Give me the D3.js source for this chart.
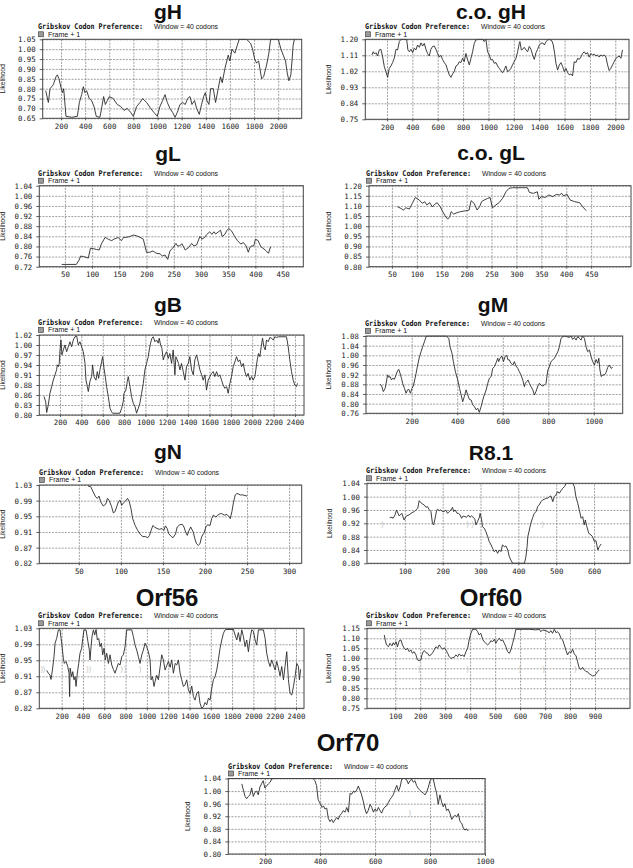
<!DOCTYPE html>
<html>
<head>
<meta charset="utf-8">
<script src="https://cdn.jsdelivr.net/npm/d3@7"></script>
<style>
  body { margin: 0; background: #fff; }
  text { font-family: "Liberation Sans", Arial, sans-serif; fill: #111; }
  .ax text { font-family: "DejaVu Sans Mono", monospace; font-size: 7.4px; fill: #222; }
  .ax line { stroke: #333; stroke-width: 0.8; }
  .grid line { stroke: #777; stroke-width: 0.7; stroke-dasharray: 2,1.2; }
</style>
</head>
<body>
<svg id="fig" width="633" height="868"></svg>
<script>
//===== tick labels ==========================================
const xTicks2000 = [200, 400, 600, 800, 1000, 1200, 1400, 1600, 1800, 2000];
const xTicks2400 = [200, 400, 600, 800, 1000, 1200, 1400, 1600, 1800, 2000, 2200, 2400];
const xTicks450 = [50, 100, 150, 200, 250, 300, 350, 400, 450];
const xTicks1000 = [200, 400, 600, 800, 1000];
const xTicks300 = [50, 100, 150, 200, 250, 300];
const xTicks600 = [100, 200, 300, 400, 500, 600];
const xTicks900 = [100, 200, 300, 400, 500, 600, 700, 800, 900];

const yLabGH = ["1.05", "1.00", "0.95", "0.90", "0.85", "0.80", "0.75", "0.70", "0.65"];
const yLabCoGH = ["1.20", "1.11", "1.02", "0.93", "0.84", "0.75"];
const yLabGL = ["1.04", "1.00", "0.96", "0.92", "0.88", "0.84", "0.80", "0.76", "0.72"];
const yLabCoGL = ["1.20", "1.15", "1.10", "1.05", "1.00", "0.95", "0.90", "0.85", "0.80"];
const yLabGB = ["1.02", "1.00", "0.97", "0.94", "0.91", "0.88", "0.86", "0.83", "0.80"];
const yLabGM = ["1.08", "1.04", "1.00", "0.96", "0.92", "0.88", "0.84", "0.80", "0.76"];
const yLabGN = ["1.03", "0.99", "0.95", "0.91", "0.87", "0.82"];
const yLabR81 = ["1.04", "1.00", "0.96", "0.92", "0.88", "0.84", "0.80"];
const yLabOrf56 = ["1.03", "0.99", "0.95", "0.91", "0.87", "0.82"];
const yLabOrf60 = ["1.15", "1.10", "1.05", "1.00", "0.95", "0.90", "0.85", "0.80", "0.75"];
const yLabOrf70 = ["1.04", "1.00", "0.96", "0.92", "0.88", "0.84", "0.80"];

//===== series: [codon position, likelihood] ==================
const gH = [[73,.79],[95,.73],[109,.80],[136,.82],[158,.86],[169,.87],[183,.85],[202,.80],[213,.78],[222,.80],[241,.66],[288,.655],[335,.66],[352,.73],[371,.77],[385,.81],[398,.78],[412,.79],[434,.75],[453,.74],[473,.71],[492,.66],[522,.655],[539,.71],[553,.76],[567,.72],[584,.74],[600,.76],[633,.75],[666,.72],[694,.71],[722,.69],[749,.70],[777,.68],[799,.66],[827,.71],[854,.73],[876,.75],[910,.73],[943,.70],[970,.68],[998,.66],[1020,.71],[1042,.74],[1062,.77],[1081,.73],[1103,.70],[1125,.68],[1145,.655],[1164,.68],[1186,.72],[1208,.73],[1230,.72],[1249,.75],[1269,.76],[1285,.72],[1307,.74],[1324,.70],[1346,.67],[1365,.72],[1382,.76],[1396,.78],[1409,.74],[1426,.72],[1440,.80],[1462,.80],[1481,.73],[1503,.80],[1522,.86],[1536,.83],[1558,.90],[1586,.97],[1600,.94],[1617,1.00],[1641,.98],[1661,1.02],[1677,1.05],[1738,1.05],[1771,1.03],[1788,1.00],[1805,.95],[1821,.93],[1838,.94],[1863,.85],[1879,.86],[1904,.92],[1923,.98],[1937,1.05],[2001,1.05],[2023,1.00],[2042,.97],[2061,.94],[2075,.88],[2089,.84],[2105,.87],[2116,.95],[2124,1.02],[2135,1.05]];

const coGH = [[81,1.112],[92,1.13],[102,1.117],[113,1.125],[126,1.106],[139,1.14],[152,1.144],[166,1.10],[179,1.046],[192,1.018],[205,.986],[218,1.037],[231,1.05],[244,1.069],[257,1.093],[271,1.144],[284,1.14],[297,1.187],[310,1.20],[355,1.20],[365,1.14],[376,1.13],[389,1.144],[402,1.125],[415,1.15],[428,1.14],[441,1.168],[455,1.155],[468,1.18],[481,1.162],[494,1.177],[507,1.144],[520,1.12],[533,1.106],[546,1.144],[560,1.16],[573,1.162],[586,1.144],[599,1.12],[612,1.10],[625,1.11],[638,1.087],[652,1.069],[665,1.056],[678,1.027],[691,1.0],[704,.986],[717,1.005],[730,1.018],[744,1.05],[757,1.056],[770,1.074],[783,1.069],[796,1.093],[809,1.074],[822,1.12],[836,1.084],[849,1.056],[862,1.093],[875,1.13],[888,1.177],[901,1.196],[914,1.20],[954,1.20],[967,1.187],[980,1.20],[993,1.13],[1006,1.112],[1019,1.084],[1032,1.087],[1045,1.065],[1059,1.069],[1072,1.05],[1085,1.037],[1098,1.024],[1111,1.012],[1124,1.027],[1137,1.05],[1151,1.018],[1164,1.024],[1177,1.037],[1190,1.056],[1203,1.074],[1217,1.093],[1230,1.13],[1243,1.177],[1248,1.187],[1259,1.14],[1270,1.144],[1282,1.155],[1296,1.14],[1309,1.13],[1322,1.16],[1335,1.144],[1348,1.112],[1361,1.087],[1375,1.125],[1388,1.144],[1401,1.168],[1414,1.177],[1427,1.18],[1441,1.168],[1454,1.187],[1467,1.196],[1480,1.20],[1501,1.19],[1511,1.168],[1522,1.12],[1532,1.065],[1545,1.027],[1559,1.056],[1572,1.069],[1585,1.046],[1598,1.018],[1611,1.037],[1624,1.012],[1637,1.0],[1650,1.005],[1663,.994],[1676,1.074],[1690,1.069],[1703,1.093],[1716,1.087],[1729,1.10],[1742,1.12],[1755,1.13],[1768,1.117],[1781,1.125],[1794,1.10],[1807,1.12],[1820,1.112],[1834,1.117],[1847,1.106],[1860,1.112],[1873,1.10],[1886,1.112],[1899,1.106],[1913,1.112],[1926,1.10],[1939,1.056],[1952,1.024],[1965,1.037],[1978,1.056],[1991,1.074],[2005,1.093],[2018,1.10],[2031,1.106],[2044,1.093],[2057,1.14]];

const gL = [[44,.729],[71,.729],[76,.746],[79,.762],[84,.760],[89,.757],[93,.754],[97,.793],[103,.791],[108,.788],[113,.786],[117,.810],[124,.836],[130,.828],[136,.823],[142,.831],[148,.835],[154,.823],[158,.836],[163,.836],[169,.839],[176,.845],[182,.842],[188,.836],[194,.829],[200,.777],[206,.777],[212,.782],[218,.773],[225,.771],[229,.762],[234,.766],[239,.749],[243,.783],[248,.793],[254,.812],[257,.802],[261,.802],[265,.811],[271,.786],[277,.795],[283,.812],[287,.802],[292,.806],[298,.839],[302,.829],[307,.836],[310,.846],[316,.858],[320,.848],[324,.858],[327,.849],[332,.858],[336,.864],[339,.839],[344,.848],[347,.861],[351,.871],[356,.862],[362,.839],[367,.823],[373,.810],[378,.815],[383,.802],[387,.777],[390,.797],[393,.802],[397,.802],[400,.829],[405,.823],[410,.799],[414,.793],[419,.784],[424,.773],[428,.799]];

const coGL = [[61,1.096],[68,1.088],[73,1.08],[78,1.091],[85,1.085],[91,1.113],[97,1.142],[105,1.129],[111,1.113],[116,1.121],[120,1.105],[126,1.116],[131,1.096],[136,1.108],[141,1.116],[147,1.096],[152,1.072],[157,1.05],[162,1.035],[166,1.047],[169,1.072],[174,1.06],[181,1.067],[188,1.072],[195,1.075],[201,1.077],[205,1.08],[209,1.126],[215,1.113],[218,1.096],[221,1.08],[226,1.096],[230,1.121],[235,1.129],[242,1.137],[247,1.142],[252,1.091],[259,1.105],[265,1.116],[272,1.137],[279,1.17],[285,1.187],[292,1.19],[322,1.19],[326,1.167],[334,1.162],[342,1.17],[345,1.133],[350,1.146],[358,1.142],[365,1.154],[373,1.146],[380,1.157],[386,1.154],[391,1.162],[395,1.149],[401,1.159],[408,1.129],[417,1.121],[427,1.116],[433,1.096],[440,1.077]];

const gB = [[50,.852],[66,.837],[75,.807],[90,.828],[106,.861],[122,.880],[137,.898],[153,.913],[168,.927],[175,.941],[184,.936],[193,.945],[200,.983],[209,1.011],[218,.969],[231,.983],[246,.997],[262,.978],[278,.992],[293,1.006],[309,.992],[324,1.011],[340,1.020],[356,1.022],[371,.997],[387,1.006],[402,.992],[418,.978],[434,.945],[443,.898],[456,.880],[465,.866],[480,.894],[496,.908],[505,.941],[518,.908],[537,.898],[549,.922],[562,.903],[574,.927],[590,.950],[599,.964],[612,.931],[624,.908],[636,.880],[652,.852],[668,.819],[683,.809],[693,.805],[761,.805],[777,.819],[792,.837],[799,.861],[817,.870],[830,.894],[839,.908],[855,.880],[870,.852],[886,.833],[902,.824],[917,.805],[933,.819],[948,.833],[964,.861],[980,.889],[995,.927],[1011,.945],[1026,.964],[1036,.983],[1048,1.002],[1061,1.016],[1073,1.020],[1089,1.006],[1104,1.011],[1120,1.002],[1129,1.016],[1142,.997],[1154,.988],[1167,.955],[1182,.969],[1198,.978],[1214,.959],[1229,.973],[1245,.945],[1260,.983],[1276,.913],[1285,.964],[1298,.955],[1310,.945],[1323,.927],[1338,.945],[1354,.922],[1370,.898],[1385,.936],[1401,.945],[1416,.964],[1432,.927],[1448,.913],[1463,.955],[1479,.969],[1494,.950],[1510,.927],[1526,.913],[1541,.898],[1557,.913],[1572,.870],[1588,.898],[1604,.908],[1619,.917],[1635,.922],[1650,.908],[1666,.922],[1682,.908],[1697,.913],[1713,.898],[1728,.884],[1744,.875],[1760,.880],[1775,.861],[1791,.889],[1806,.908],[1822,.936],[1838,.950],[1853,.964],[1869,.950],[1884,.955],[1900,.936],[1916,.945],[1931,.922],[1947,.908],[1962,.917],[1978,.898],[1994,.908],[2009,.898],[2025,.908],[2034,.927],[2047,.955],[2059,.973],[2072,.964],[2084,.992],[2097,1.016],[2109,.992],[2122,.983],[2134,1.011],[2150,1.006],[2165,1.018],[2181,1.016],[2196,1.011],[2212,1.020],[2228,1.018],[2243,1.020],[2321,1.020],[2337,.992],[2352,.955],[2368,.922],[2384,.898],[2399,.884],[2415,.880],[2424,.889]];

const gM = [[61,.881],[68,.873],[75,.850],[83,.863],[90,.898],[94,.919],[99,.909],[105,.912],[111,.898],[116,.905],[124,.901],[131,.919],[138,.937],[143,.942],[149,.925],[155,.905],[160,.884],[168,.863],[175,.843],[182,.857],[187,.859],[194,.843],[201,.863],[207,.873],[213,.898],[219,.925],[226,.960],[234,.994],[241,1.015],[248,1.036],[256,1.057],[263,1.077],[270,1.08],[351,1.08],[355,1.077],[363,1.070],[368,1.036],[377,1.008],[383,.974],[392,.932],[402,.898],[410,.863],[417,.836],[424,.808],[431,.829],[439,.857],[446,.836],[453,.818],[461,.815],[468,.795],[475,.788],[483,.774],[490,.781],[497,.764],[505,.788],[512,.815],[519,.836],[527,.857],[534,.884],[541,.905],[549,.912],[556,.946],[563,.953],[571,.970],[578,.988],[582,.974],[588,.988],[596,.997],[603,.974],[610,.994],[617,1.001],[623,.981],[629,.981],[636,.967],[644,.960],[651,.974],[658,.956],[666,.946],[673,.932],[680,.919],[688,.898],[695,.870],[699,.884],[705,.891],[711,.898],[717,.884],[724,.870],[732,.857],[739,.836],[746,.850],[754,.873],[761,.884],[768,.877],[776,.873],[783,.877],[790,.884],[798,.939],[805,.953],[812,.974],[820,.981],[827,.988],[834,1.001],[842,1.015],[849,1.036],[856,1.070],[864,1.077],[871,1.08],[893,1.074],[900,1.08],[907,1.066],[915,1.074],[922,1.063],[929,1.077],[937,1.070],[944,1.063],[951,1.08],[959,1.070],[966,1.036],[973,1.015],[981,1.022],[988,.994],[995,.974],[1003,.960],[1010,.983],[1017,.967],[1022,.988],[1027,.939],[1033,.912],[1039,.919],[1047,.919],[1054,.929],[1061,.950],[1068,.960],[1076,.946],[1083,.950]];

const gN = [[61,1.027],[64,1.026],[67,1.012],[70,.999],[72,.995],[74,1.001],[76,.986],[79,.975],[82,.980],[84,.995],[86,.990],[89,.973],[91,.957],[93,.960],[95,.973],[97,.986],[99,.990],[101,.977],[103,.983],[106,.989],[108,.995],[110,.986],[112,.968],[114,.942],[117,.924],[120,.911],[123,.901],[126,.895],[129,.895],[132,.892],[134,.898],[136,.911],[138,.924],[140,.920],[143,.916],[146,.914],[149,.916],[151,.911],[153,.923],[155,.916],[157,.902],[160,.895],[162,.892],[165,.902],[167,.920],[170,.926],[173,.927],[175,.920],[177,.907],[179,.898],[181,.911],[183,.920],[186,.907],[188,.889],[190,.876],[192,.872],[194,.876],[196,.894],[198,.902],[199,.904],[201,.920],[203,.926],[206,.924],[208,.942],[210,.951],[213,.946],[215,.951],[218,.955],[220,.955],[223,.951],[226,.953],[229,.946],[230,.942],[232,.960],[234,.986],[236,1.004],[238,1.008],[242,1.004],[245,1.004],[250,1.001]];

const r81 = [[60,.937],[66,.938],[69,.935],[74,.945],[78,.960],[85,.942],[92,.950],[98,.930],[104,.942],[111,.945],[119,.952],[125,.955],[129,.960],[134,.965],[138,.988],[142,.982],[147,.978],[151,.975],[156,.968],[160,.970],[164,.962],[169,.955],[173,.920],[176,.915],[179,.930],[184,.958],[186,.962],[191,.958],[195,.960],[200,.955],[204,.955],[208,.960],[213,.950],[217,.955],[222,.960],[226,.968],[229,.955],[233,.960],[238,.950],[242,.950],[246,.945],[250,.935],[254,.942],[259,.940],[263,.938],[268,.945],[272,.938],[276,.942],[281,.938],[285,.932],[288,.915],[292,.925],[297,.938],[299,.950],[303,.930],[305,.910],[310,.905],[314,.895],[319,.880],[323,.865],[328,.855],[332,.845],[336,.835],[341,.840],[345,.830],[350,.840],[354,.835],[358,.855],[363,.850],[367,.852],[372,.840],[376,.820],[380,.810],[385,.800],[416,.800],[420,.820],[423,.850],[425,.880],[429,.900],[433,.920],[438,.938],[442,.950],[447,.955],[451,.970],[455,.975],[460,.985],[464,.990],[469,.992],[473,.995],[477,.995],[482,1.000],[486,1.002],[491,.985],[495,1.000],[499,1.005],[504,1.015],[508,1.010],[513,1.018],[517,1.025],[522,1.030],[526,1.040],[544,1.040],[548,1.030],[552,1.000],[557,.980],[561,.960],[566,.935],[570,.940],[574,.915],[577,.930],[581,.910],[586,.890],[592,.885],[596,.880],[601,.865],[605,.868],[610,.840],[614,.850],[619,.858]];

const orf56 = [[59,.922],[75,.915],[91,.910],[100,.899],[113,.923],[128,.957],[138,.992],[153,1.004],[169,1.026],[185,1.026],[200,.992],[216,.953],[225,.940],[241,.945],[257,.932],[269,.915],[275,.855],[279,.928],[294,.906],[304,.919],[316,.898],[326,.906],[335,.881],[347,.915],[360,.940],[372,.966],[388,.979],[398,1.004],[410,1.026],[429,1.026],[444,1.0],[460,.974],[466,.949],[476,.983],[485,1.009],[498,1.026],[510,1.013],[523,1.027],[535,1.0],[548,1.004],[560,.983],[573,.992],[585,.962],[598,.979],[610,.949],[623,.966],[639,.940],[654,.962],[670,.936],[685,.925],[701,.915],[717,.928],[732,.940],[748,.936],[764,.957],[779,.962],[795,.983],[811,1.026],[858,1.026],[873,1.009],[889,.987],[905,.974],[920,.957],[936,.940],[952,.962],[967,.974],[983,.992],[998,.983],[1014,.970],[1030,.949],[1039,.898],[1052,.906],[1067,.881],[1077,.894],[1092,.910],[1108,.898],[1124,.930],[1139,.962],[1155,.949],[1171,.923],[1186,.934],[1202,.945],[1218,.930],[1233,.949],[1249,.915],[1265,.940],[1280,.936],[1296,.949],[1311,.916],[1327,.898],[1343,.881],[1358,.885],[1374,.898],[1390,.872],[1405,.863],[1421,.882],[1437,.855],[1452,.846],[1468,.863],[1484,.868],[1499,.838],[1515,.825],[1531,.829],[1546,.840],[1562,.834],[1578,.851],[1593,.846],[1609,.876],[1624,.898],[1640,.906],[1656,.923],[1671,.949],[1687,.979],[1703,1.0],[1718,1.017],[1734,1.026],[1750,1.027],[1812,1.027],[1828,1.013],[1844,1.0],[1859,1.019],[1875,.996],[1891,1.026],[1906,1.009],[1922,.983],[1937,1.0],[1953,.970],[1969,1.004],[1984,1.026],[2000,1.022],[2016,1.0],[2031,.987],[2047,1.026],[2094,1.026],[2110,1.004],[2125,.966],[2141,.945],[2157,.932],[2172,.949],[2188,.936],[2204,.923],[2219,.945],[2235,.928],[2250,.908],[2266,.932],[2282,.898],[2297,.932],[2313,.970],[2329,.898],[2344,.863],[2360,.859],[2376,.881],[2391,.906],[2407,.940],[2423,.932],[2432,.898],[2444,.925]];

const orf60 = [[56,1.117],[60,1.092],[65,1.067],[73,1.058],[79,1.075],[87,1.062],[92,1.078],[97,1.067],[103,1.083],[109,1.058],[116,1.088],[123,1.092],[129,1.067],[136,1.05],[143,1.042],[149,1.05],[156,1.033],[163,1.042],[169,1.025],[176,1.033],[183,1.017],[189,.992],[196,.988],[203,.992],[207,1.017],[212,1.033],[217,1.038],[223,1.028],[230,1.025],[236,1.012],[243,1.017],[250,1.028],[256,1.042],[263,1.058],[270,1.05],[276,1.067],[283,1.055],[290,1.045],[296,1.053],[303,1.042],[310,1.025],[316,1.008],[323,1.0],[330,1.003],[336,1.005],[343,1.017],[350,1.008],[356,1.022],[363,1.012],[370,1.017],[376,1.008],[383,1.033],[390,1.05],[396,1.092],[403,1.125],[410,1.145],[423,1.145],[430,1.133],[436,1.117],[443,1.125],[450,1.095],[456,1.083],[463,1.075],[470,1.067],[477,1.075],[483,1.088],[490,1.083],[497,1.095],[503,1.075],[510,1.092],[517,1.10],[523,1.088],[530,1.092],[537,1.075],[543,1.058],[550,1.033],[557,1.025],[563,1.042],[570,1.075],[577,1.108],[583,1.145],[637,1.145],[663,1.142],[677,1.145],[683,1.133],[690,1.142],[703,1.138],[717,1.128],[723,1.138],[730,1.125],[737,1.145],[744,1.128],[750,1.133],[757,1.122],[764,1.10],[770,1.092],[777,1.067],[784,1.038],[790,1.017],[797,1.033],[804,1.028],[810,1.045],[817,1.022],[824,1.012],[830,.983],[837,.95],[844,.945],[850,.955],[857,.942],[864,.933],[870,.933],[877,.922],[884,.917],[890,.912],[897,.913],[904,.922],[910,.933],[917,.942]];

const orf70 = [[115,1.023],[121,1.003],[127,.983],[133,.976],[139,.983],[145,.988],[151,1.010],[157,.983],[163,.996],[169,1.0],[175,.988],[181,1.013],[187,1.023],[193,1.033],[199,1.010],[205,1.016],[212,1.023],[218,1.028],[224,1.038],[230,1.04],[375,1.04],[381,1.033],[387,1.018],[393,.973],[397,.966],[402,.958],[407,.948],[412,.953],[418,.943],[424,.946],[430,.913],[436,.903],[442,.910],[448,.90],[454,.908],[460,.916],[466,.910],[472,.923],[478,.928],[484,.938],[491,.933],[497,.948],[503,.933],[509,.993],[515,.990],[521,1.0],[527,.996],[533,1.003],[539,1.016],[545,1.003],[551,.988],[557,.968],[563,.943],[569,.928],[575,.938],[582,.958],[588,.948],[594,.933],[600,.943],[606,.936],[612,.948],[618,.938],[624,.930],[630,.943],[636,.950],[642,.953],[648,.963],[654,.973],[660,.980],[666,.988],[672,1.003],[679,1.018],[685,1.0],[691,1.013],[697,1.038],[703,1.04],[709,1.04],[715,1.036],[721,1.023],[727,1.033],[733,1.038],[739,1.028],[745,1.033],[751,1.018],[757,1.008],[763,1.003],[769,.998],[776,.993],[782,.988],[788,.998],[794,1.013],[800,1.033],[806,1.04],[812,1.038],[818,1.013],[824,.993],[830,.958],[836,.988],[842,.966],[848,.950],[854,.960],[860,.938],[866,.943],[873,.928],[879,.910],[885,.918],[891,.923],[897,.918],[903,.928],[909,.903],[915,.898],[921,.883],[927,.876],[933,.880],[939,.873]];

// faint ")" reading-frame marks seen along some plots: positions, then likelihood level
const r81Marks = [41, 266, 279, 464], r81MarkY = 0.92;
const orf56Marks = [13, 34, 441, 466, 764, 795, 936], orf56MarkY = 0.928;
const orf60Marks = [196, 390, 599, 694, 821], orf60MarkY = 0.95;
const orf70Marks = [727, 988], orf70MarkY = 0.933;

//===== panel layout ==========================================
// box = [left, top, right, bottom] of the plot frame
const panels = [
  { name: "gH", data: gH, xDom: [48, 2195], xTicks: xTicks2000, yDom: [0.65, 1.05], yLab: yLabGH,
    box: [42.7, 39.3, 301.7, 118.3], title: [168, 19], size: 21, grib: 38, lik: 3 },
  { name: "c.o. gH", data: coGH, xDom: [29, 2108], xTicks: xTicks2000, yDom: [0.75, 1.20], yLab: yLabCoGH,
    box: [365.3, 39.3, 629, 119.3], title: [491, 19], size: 21, grib: 365, lik: 329 },
  { name: "gL", data: gL, xDom: [3, 488], xTicks: xTicks450, yDom: [0.72, 1.04], yLab: yLabGL,
    box: [39.3, 185.7, 303.3, 266.7], title: [168, 160.7], size: 21, grib: 38, lik: 3 },
  { name: "c.o. gL", data: coGL, xDom: [4, 530], xTicks: xTicks450, yDom: [0.80, 1.20], yLab: yLabCoGL,
    box: [369, 185.7, 631, 266.7], title: [491, 160], size: 21, grib: 366, lik: 329 },
  { name: "gB", data: gB, xDom: [6, 2485], xTicks: xTicks2400, yDom: [0.80, 1.025], yLab: yLabGB,
    box: [39.3, 335, 304, 415], title: [168, 312.3], size: 21, grib: 38, lik: 3 },
  { name: "gM", data: gM, xDom: [-1, 1127], xTicks: xTicks1000, yDom: [0.76, 1.08], yLab: yLabGM,
    box: [366, 336, 622.7, 413.3], title: [493, 311.7], size: 21, grib: 365, lik: 329 },
  { name: "gN", data: gN, xDom: [3, 315], xTicks: xTicks300, yDom: [0.825, 1.03], yLab: yLabGN,
    box: [39.3, 485, 301.7, 563.3], title: [168, 459.3], size: 21, grib: 39, lik: 3 },
  { name: "R8.1", data: r81, xDom: [0, 695], xTicks: xTicks600, yDom: [0.80, 1.04], yLab: yLabR81,
    box: [367, 483.3, 630, 563.3], title: [491, 460], size: 21, grib: 366, lik: 330,
    marks: r81Marks, markY: r81MarkY },
  { name: "Orf56", data: orf56, xDom: [-10, 2475], xTicks: xTicks2400, yDom: [0.825, 1.03], yLab: yLabOrf56,
    box: [39.3, 628.3, 304, 708.3], title: [167, 606], size: 24, grib: 38, lik: 3,
    marks: orf56Marks, markY: orf56MarkY },
  { name: "Orf60", data: orf60, xDom: [-13, 1040], xTicks: xTicks900, yDom: [0.75, 1.15], yLab: yLabOrf60,
    box: [367, 628.3, 630, 708.3], title: [491, 606], size: 24, grib: 366, lik: 329,
    marks: orf60Marks, markY: orf60MarkY },
  { name: "Orf70", data: orf70, xDom: [66, 1000], xTicks: xTicks1000, yDom: [0.80, 1.04], yLab: yLabOrf70,
    box: [228.3, 778.5, 485, 854], title: [348, 750.5], size: 24, grib: 228, lik: 188,
    marks: orf70Marks, markY: orf70MarkY },
];

const svg = d3.select("#fig");

const drawPanel = (p, i) => {
  const [L, T, R, B] = p.box;
  const x = d3.scaleLinear().domain(p.xDom).range([L, R]);
  const y = d3.scaleLinear().domain(p.yDom).range([B, T]);
  const n = p.yLab.length;
  const yVals = p.yLab.map((d, k) => p.yDom[1] - (k * (p.yDom[1] - p.yDom[0])) / (n - 1));
  const g = svg.append("g");

  // title
  g.append("text")
    .attr("x", p.title[0]).attr("y", p.title[1])
    .attr("text-anchor", "middle")
    .style("font-weight", "bold").style("font-size", p.size + "px")
    .text(p.name);

  // header + legend
  g.append("text")
    .attr("x", p.grib).attr("y", T - 10)
    .attr("textLength", 105).attr("lengthAdjust", "spacingAndGlyphs")
    .style("font-family", "'DejaVu Sans Mono', monospace")
    .style("font-weight", "bold").style("font-size", "7.8px")
    .text("Gribskov Codon Preference:");
  g.append("text")
    .attr("x", p.grib + 116).attr("y", T - 10)
    .attr("textLength", 64).attr("lengthAdjust", "spacingAndGlyphs")
    .style("font-size", "7.2px")
    .text("Window = 40 codons");
  g.append("rect")
    .attr("x", p.grib + 0.5).attr("y", T - 7.5)
    .attr("width", 5).attr("height", 5)
    .attr("fill", "#9a9a9a").attr("stroke", "#333").attr("stroke-width", 0.6);
  g.append("text")
    .attr("x", p.grib + 10).attr("y", T - 2.6)
    .style("font-size", "7px")
    .text("Frame + 1");

  // y title
  g.append("text")
    .attr("transform", `translate(${p.lik},${(T + B) / 2}) rotate(-90)`)
    .attr("text-anchor", "middle").attr("dy", "0.35em")
    .style("font-size", "6.5px")
    .text("Likelihood");

  // grid
  g.append("g").attr("class", "grid")
    .attr("transform", `translate(${L},0)`)
    .call(d3.axisLeft(y).tickValues(yVals).tickSize(-(R - L)).tickFormat(""))
    .call((a) => a.select(".domain").remove());
  g.append("g").attr("class", "grid")
    .attr("transform", `translate(0,${B})`)
    .call(d3.axisBottom(x).tickValues(p.xTicks).tickSize(-(B - T)).tickFormat(""))
    .call((a) => a.select(".domain").remove());

  // axes
  g.append("g").attr("class", "ax")
    .attr("transform", `translate(${L},0)`)
    .call(d3.axisLeft(y).tickValues(yVals).tickSize(3).tickPadding(4).tickFormat((d, k) => p.yLab[k]))
    .call((a) => a.select(".domain").remove());
  g.append("g").attr("class", "ax")
    .attr("transform", `translate(0,${B})`)
    .call(d3.axisBottom(x).tickValues(p.xTicks).tickSize(2).tickPadding(3).tickFormat(d3.format("d")))
    .call((a) => a.select(".domain").remove());

  // faint frame marks
  if (p.marks) {
    g.selectAll("text.mark")
      .data(p.marks)
      .enter()
      .append("text")
      .attr("class", "mark")
      .attr("x", (d) => x(d)).attr("y", y(p.markY))
      .attr("dy", "0.35em").attr("text-anchor", "middle")
      .style("font-size", "7px").style("fill", "#bdbdbd")
      .text(")");
  }

  // series
  const clipId = "clip" + i;
  g.append("clipPath").attr("id", clipId)
    .append("rect").attr("x", L).attr("y", T - 0.5).attr("width", R - L).attr("height", B - T + 1);
  const line = d3.line().x((d) => x(d[0])).y((d) => y(d[1]));
  g.append("path")
    .datum(p.data)
    .attr("clip-path", `url(#${clipId})`)
    .attr("d", line)
    .attr("fill", "none")
    .attr("stroke", "#2a2a2a")
    .attr("stroke-width", 0.9)
    .attr("stroke-linejoin", "round");

  // frame
  g.append("rect")
    .attr("x", L).attr("y", T)
    .attr("width", R - L).attr("height", B - T)
    .attr("fill", "none").attr("stroke", "#444").attr("stroke-width", 1);
};

panels.forEach(drawPanel);
</script>
</body>
</html>
